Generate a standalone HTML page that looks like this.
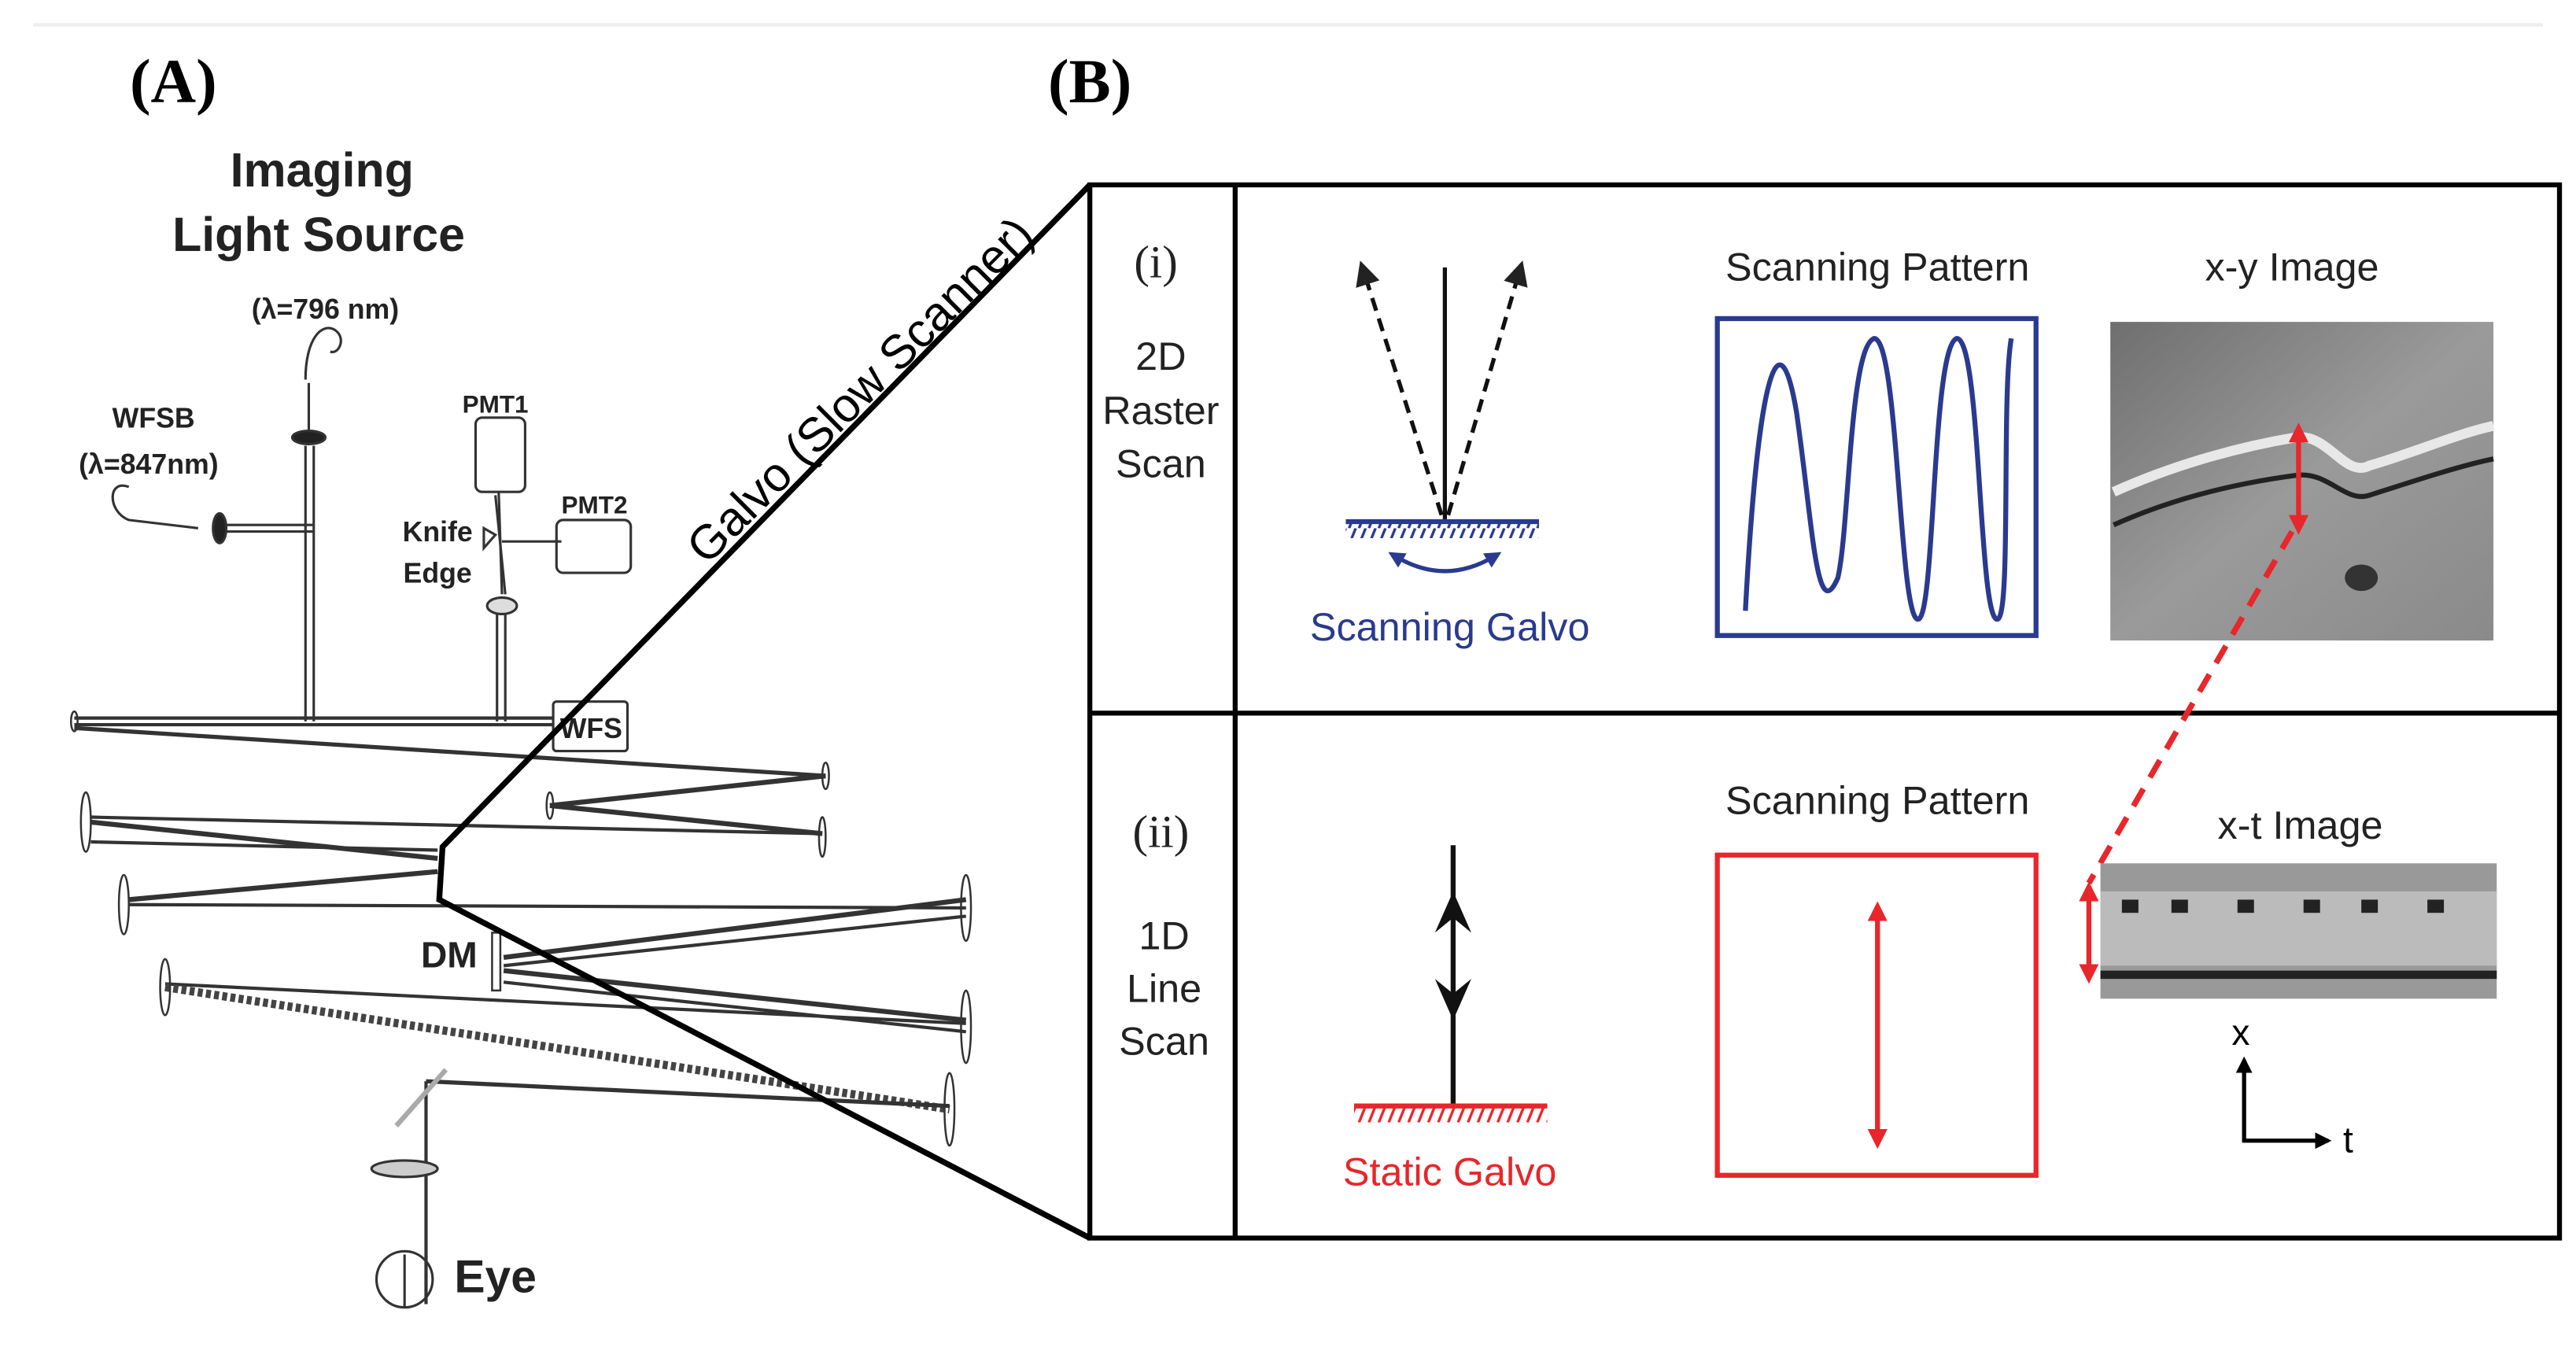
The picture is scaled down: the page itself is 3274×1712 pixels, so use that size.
<!DOCTYPE html>
<html><head><style>
html,body{margin:0;padding:0;background:#fff;}
svg{display:block;}
</style></head><body>
<svg width="3274" height="1712" viewBox="0 0 1560 816" preserveAspectRatio="none" xmlns="http://www.w3.org/2000/svg" font-family="Liberation Sans, Arial, sans-serif">
<defs>
<marker id="ah" viewBox="0 0 10 10" refX="5" refY="5" markerWidth="6" markerHeight="6" orient="auto-start-reverse"><path d="M0,0 L10,5 L0,10 z" fill="#222"/></marker>
<marker id="ar" viewBox="0 0 10 10" refX="5" refY="5" markerWidth="4" markerHeight="4" orient="auto-start-reverse"><path d="M0,0 L10,5 L0,10 z" fill="#e8262b"/></marker>
<marker id="ab" viewBox="0 0 10 10" refX="5" refY="5" markerWidth="4" markerHeight="4" orient="auto-start-reverse"><path d="M0,0 L10,5 L0,10 z" fill="#2a3a8f"/></marker>
<marker id="ak" viewBox="0 0 10 10" refX="8" refY="5" markerWidth="4" markerHeight="4" orient="auto"><path d="M0,0 L10,5 L0,10 z" fill="#000"/></marker>
<pattern id="hb" width="6" height="10" patternUnits="userSpaceOnUse"><path d="M5,0 L1,10" stroke="#2a3a8f" stroke-width="1.6"/></pattern>
<pattern id="hr" width="6" height="10" patternUnits="userSpaceOnUse"><path d="M5,0 L1,10" stroke="#e8262b" stroke-width="1.6"/></pattern>
<linearGradient id="g1" x1="0" y1="0" x2="1" y2="1"><stop offset="0" stop-color="#6f6f6f"/><stop offset="0.5" stop-color="#9a9a9a"/><stop offset="1" stop-color="#8a8a8a"/></linearGradient>
</defs>
<rect width="1560" height="816" fill="#fff"/>
<line x1="20" y1="15" x2="1540" y2="15" stroke="#eee" stroke-width="2"/>

<text x="105" y="62" font-family="Liberation Serif, serif" font-weight="bold" font-size="38" text-anchor="middle">(A)</text>
<text x="660" y="62" font-family="Liberation Serif, serif" font-weight="bold" font-size="38" text-anchor="middle">(B)</text>

<g font-weight="bold" fill="#222" text-anchor="middle">
<text x="195" y="113" font-size="29">Imaging</text>
<text x="193" y="152" font-size="29">Light Source</text>
<text x="197" y="193" font-size="17">(λ=796 nm)</text>
<text x="93" y="259" font-size="17">WFSB</text>
<text x="90" y="287" font-size="17">(λ=847nm)</text>
<text x="300" y="250" font-size="15">PMT1</text>
<text x="360" y="311" font-size="15">PMT2</text>
<text x="265" y="328" font-size="17">Knife</text>
<text x="265" y="353" font-size="17">Edge</text>
<text x="272" y="586" font-size="22">DM</text>
<text x="300" y="783" font-size="28">Eye</text>
<text x="358" y="447" font-size="17">WFS</text>
</g>

<g stroke="#333" fill="none" stroke-width="1.5">
<path d="M185,230 C185,205 195,195 203,200 C210,205 205,215 200,213"/>
<line x1="187" y1="232" x2="187" y2="262"/>
<ellipse cx="187" cy="265" rx="10" ry="4" fill="#222"/>
<line x1="185" y1="270" x2="185" y2="437"/><line x1="190" y1="270" x2="190" y2="437"/>
<path d="M78,295 C65,290 65,310 78,315 L120,320"/>
<ellipse cx="133" cy="320" rx="4" ry="9" fill="#222"/>
<line x1="137" y1="318" x2="190" y2="318"/><line x1="137" y1="322" x2="190" y2="322"/>
<rect x="288" y="253" width="30" height="45" rx="4"/>
<line x1="302" y1="298" x2="304" y2="360"/><line x1="300" y1="300" x2="306" y2="360"/>
<line x1="304" y1="328" x2="340" y2="328"/>
<rect x="337" y="315" width="45" height="32" rx="4"/>
<path d="M300,324 L293,320 L293,332 Z"/>
<ellipse cx="304" cy="367" rx="9" ry="5" fill="#ddd"/>
<line x1="301" y1="372" x2="301" y2="437"/><line x1="306" y1="372" x2="306" y2="437"/>
<rect x="335" y="425" width="45" height="30" rx="2"/>
<line x1="45" y1="435" x2="335" y2="435" stroke-width="2"/>
<line x1="45" y1="439" x2="335" y2="439" stroke-width="2"/>
<line x1="45" y1="441" x2="500" y2="470" stroke-width="2.5"/>
<line x1="500" y1="470" x2="333" y2="488" stroke-width="3"/>
<line x1="333" y1="488" x2="498" y2="505" stroke-width="3"/>
<line x1="55" y1="495" x2="498" y2="505" stroke-width="2"/>
<line x1="55" y1="498" x2="265" y2="520" stroke-width="3"/>
<line x1="55" y1="510" x2="265" y2="515" stroke-width="2"/>
<line x1="78" y1="545" x2="265" y2="528" stroke-width="3"/>
<line x1="78" y1="548" x2="585" y2="550" stroke-width="2"/>
<line x1="305" y1="580" x2="585" y2="545" stroke-width="3"/>
<line x1="305" y1="585" x2="585" y2="555" stroke-width="2"/>
<line x1="305" y1="588" x2="585" y2="618" stroke-width="3"/>
<line x1="305" y1="595" x2="585" y2="625" stroke-width="2"/>
<line x1="100" y1="596" x2="585" y2="620" stroke-width="2"/>
<line x1="100" y1="598" x2="575" y2="672" stroke-width="5" stroke="#444" stroke-dasharray="3,2"/>
<line x1="575" y1="670" x2="258" y2="655" stroke-width="2.5"/>
<line x1="258" y1="655" x2="258" y2="790" stroke-width="2"/>
<line x1="240" y1="682" x2="270" y2="648" stroke="#aaa" stroke-width="3"/>
<ellipse cx="245" cy="708" rx="20" ry="5" fill="#ccc"/>
<circle cx="245" cy="775" r="17"/>
<line x1="245" y1="760" x2="245" y2="792"/>
<g stroke-width="1.2">
<ellipse cx="45" cy="437" rx="2" ry="6"/><ellipse cx="500" cy="470" rx="2" ry="8"/><ellipse cx="333" cy="488" rx="2" ry="8"/>
<ellipse cx="498" cy="507" rx="2" ry="12"/><ellipse cx="52" cy="498" rx="3" ry="18"/><ellipse cx="75" cy="548" rx="3" ry="18"/>
<ellipse cx="585" cy="550" rx="3" ry="20"/><ellipse cx="585" cy="622" rx="3" ry="22"/><ellipse cx="100" cy="598" rx="3" ry="17"/>
<ellipse cx="575" cy="672" rx="3" ry="22"/>
<path d="M298,565 L303,565 L303,600 L298,600 Z"/>
</g>
</g>

<g stroke="#000" stroke-width="3.5" fill="none">
<path d="M660,112 L268,513 L266,545 L660,750"/>
</g>
<text x="0" y="0" font-size="29" transform="translate(428,343) rotate(-45)">Galvo (Slow Scanner)</text>

<g stroke="#000" stroke-width="3" fill="none">
<rect x="660" y="112" width="890" height="638"/>
<line x1="748" y1="112" x2="748" y2="750"/>
<line x1="660" y1="432" x2="1550" y2="432"/>
</g>
<g text-anchor="middle" font-size="24" fill="#222">
<text x="700" y="168" font-family="Liberation Serif, serif" font-size="28">(i)</text>
<text x="703" y="224">2D</text><text x="703" y="257">Raster</text><text x="703" y="289">Scan</text>
<text x="703" y="513" font-family="Liberation Serif, serif" font-size="28">(ii)</text>
<text x="705" y="575">1D</text><text x="705" y="607">Line</text><text x="705" y="639">Scan</text>
<text x="1137" y="170">Scanning Pattern</text>
<text x="1388" y="170">x-y Image</text>
<text x="1137" y="493">Scanning Pattern</text>
<text x="1393" y="508">x-t Image</text>
<text x="878" y="388" fill="#2a3a8f">Scanning Galvo</text>
<text x="878" y="718" fill="#e8262b">Static Galvo</text>
</g>

<line x1="875" y1="162" x2="875" y2="315" stroke="#111" stroke-width="2.5"/>
<line x1="873" y1="312" x2="826" y2="165" stroke="#111" stroke-width="2.5" stroke-dasharray="8,5" marker-end="url(#ah)"/>
<line x1="877" y1="312" x2="920" y2="165" stroke="#111" stroke-width="2.5" stroke-dasharray="8,5" marker-end="url(#ah)"/>
<line x1="815" y1="316" x2="932" y2="316" stroke="#2a3a8f" stroke-width="3"/>
<rect x="815" y="317" width="117" height="9" fill="url(#hb)"/>
<path d="M845,337 Q875,355 905,337" stroke="#2a3a8f" stroke-width="2.5" fill="none" marker-start="url(#ab)" marker-end="url(#ab)"/>

<rect x="1040" y="193" width="193" height="192" fill="none" stroke="#2a3a8f" stroke-width="3"/>
<path d="M1057,370 C1065,220 1078,190 1088,250 C1098,320 1100,380 1113,350 C1120,320 1120,210 1135,205 C1150,205 1150,380 1162,375 C1172,370 1170,210 1185,205 C1200,205 1198,380 1210,375 C1218,370 1212,240 1218,205" fill="none" stroke="#2a3a8f" stroke-width="3"/>

<rect x="1278" y="195" width="232" height="193" fill="url(#g1)"/>
<path d="M1280,298 C1320,280 1360,270 1390,265 C1410,262 1420,290 1435,282 C1460,275 1490,262 1510,258" stroke="#e8e8e8" stroke-width="6" fill="none"/>
<path d="M1280,318 C1320,300 1360,292 1390,288 C1410,285 1420,305 1435,300 C1460,292 1490,282 1510,278" stroke="#222" stroke-width="3" fill="none"/>
<ellipse cx="1430" cy="350" rx="10" ry="8" fill="#333"/>
<line x1="1392" y1="262" x2="1392" y2="318" stroke="#e8262b" stroke-width="3" marker-start="url(#ar)" marker-end="url(#ar)"/>
<line x1="1388" y1="322" x2="1265" y2="535" stroke="#e8262b" stroke-width="3.5" stroke-dasharray="12,8"/>

<line x1="880" y1="512" x2="880" y2="670" stroke="#111" stroke-width="3"/>
<path d="M880,540 L869,565 L880,556 L891,565 Z" fill="#111"/>
<path d="M880,618 L869,593 L880,602 L891,593 Z" fill="#111"/>
<line x1="820" y1="670" x2="937" y2="670" stroke="#e8262b" stroke-width="3"/>
<rect x="820" y="671" width="117" height="9" fill="url(#hr)"/>

<rect x="1040" y="518" width="193" height="194" fill="none" stroke="#e8262b" stroke-width="3"/>
<line x1="1137" y1="552" x2="1137" y2="690" stroke="#e8262b" stroke-width="3" marker-start="url(#ar)" marker-end="url(#ar)"/>

<rect x="1272" y="523" width="240" height="82" fill="#999"/>
<rect x="1272" y="540" width="240" height="45" fill="#bbb"/>
<g fill="#222">
<rect x="1285" y="545" width="10" height="8"/><rect x="1315" y="545" width="10" height="8"/><rect x="1355" y="545" width="10" height="8"/>
<rect x="1395" y="545" width="10" height="8"/><rect x="1430" y="545" width="10" height="8"/><rect x="1470" y="545" width="10" height="8"/>
<rect x="1272" y="588" width="240" height="5"/>
</g>
<line x1="1265" y1="540" x2="1265" y2="590" stroke="#e8262b" stroke-width="3" marker-start="url(#ar)" marker-end="url(#ar)"/>

<path d="M1359,692 L1359,642" stroke="#000" stroke-width="2.5" marker-end="url(#ak)"/>
<path d="M1358,691 L1410,691" stroke="#000" stroke-width="2.5" marker-end="url(#ak)"/>
<text x="1357" y="633" font-size="22" text-anchor="middle">x</text>
<text x="1422" y="698" font-size="22" text-anchor="middle">t</text>
</svg>
</body></html>
